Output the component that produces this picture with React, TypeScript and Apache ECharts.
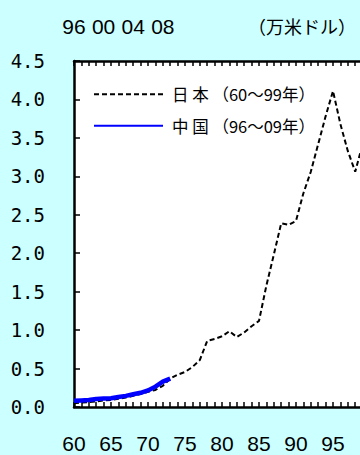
import React, { useEffect, useRef } from 'react';
import * as echarts from 'echarts';

const japanYears = [
  1960, 1961, 1962, 1963, 1964, 1965, 1966, 1967, 1968, 1969,
  1970, 1971, 1972, 1973, 1974, 1975, 1976, 1977, 1978, 1979,
  1980, 1981, 1982, 1983, 1984, 1985, 1986, 1987, 1988, 1989,
  1990, 1991, 1992, 1993, 1994, 1995, 1996, 1997, 1998, 1999,
];
const japanValues = [
  0.048, 0.057, 0.063, 0.072, 0.084, 0.092, 0.106, 0.123, 0.145, 0.168,
  0.198, 0.222, 0.275, 0.37, 0.42, 0.455, 0.52, 0.61, 0.86, 0.885,
  0.92, 0.985, 0.91, 0.97, 1.05, 1.12, 1.58, 1.98, 2.39, 2.37,
  2.42, 2.78, 3.06, 3.42, 3.78, 4.11, 3.68, 3.33, 3.06, 3.42,
];
const chinaYears = [
  1996, 1997, 1998, 1999, 2000, 2001, 2002, 2003, 2004, 2005, 2006, 2007, 2008, 2009,
];
const chinaValues = [
  0.082, 0.086, 0.09, 0.105, 0.11, 0.115, 0.13, 0.145, 0.165, 0.185, 0.215, 0.265, 0.33, 0.37,
];
const bottomTickYears = [1960, 1965, 1970, 1975, 1980, 1985, 1990, 1995];
const bottomTickLabels = ['60', '65', '70', '75', '80', '85', '90', '95'];
const topTickYears = [1996, 2000, 2004, 2008];
const topTickLabels = ['96', '00', '04', '08'];
const yTickValues = [0, 0.5, 1, 1.5, 2, 2.5, 3, 3.5, 4, 4.5];
const yTickLabels = ['0.0', '0.5', '1.0', '1.5', '2.0', '2.5', '3.0', '3.5', '4.0', '4.5'];
const japanName = '日本（60～99年）';
const chinaName = '中国（96～09年）';
const unitLabel = '（万米ドル）';

const digitFont = '"Liberation Sans", Arial, sans-serif';
const monoFont = '"DejaVu Sans Mono", "Liberation Mono", monospace';
const cjkFont = '"Noto Sans CJK JP", sans-serif';

export default function App() {
  const ref = useRef<HTMLDivElement>(null);
  useEffect(() => {
    if (!ref.current) return;
    const chart = echarts.init(ref.current, null, { renderer: 'svg' });
    const axisLine = { show: true, lineStyle: { color: '#000', width: 2.5 } };
    chart.setOption({
      animation: false,
      backgroundColor: '#ccffff',
      grid: {
        left: 74, top: 61, right: 30, bottom: 48,
        show: true, backgroundColor: '#ffffff', borderWidth: 0,
      },
      xAxis: [
        {
          type: 'value', position: 'bottom', min: 1960, max: 2000, interval: 1,
          axisLine,
          axisTick: { show: true, inside: true, length: 5, lineStyle: { color: '#000', width: 1.5 } },
          splitLine: { show: false },
          axisLabel: {
            formatter: (v: number) => {
              const i = bottomTickYears.indexOf(v);
              return i >= 0 ? bottomTickLabels[i] : '';
            },
            margin: 26, fontSize: 21, fontFamily: digitFont, color: '#000',
          },
        },
        {
          type: 'value', position: 'top', min: 1996, max: 2036, interval: 1,
          axisLine,
          axisTick: { show: true, inside: true, length: 5, lineStyle: { color: '#000', width: 1.5 } },
          splitLine: { show: false },
          axisLabel: {
            formatter: (v: number) => {
              const i = topTickYears.indexOf(v);
              return i >= 0 ? topTickLabels[i] : '';
            },
            margin: 24, fontSize: 21, fontFamily: digitFont, color: '#000',
          },
        },
      ],
      yAxis: {
        type: 'value', min: 0, max: 4.5, interval: 0.5,
        axisLine,
        axisTick: { show: true, inside: true, length: 6, lineStyle: { color: '#000', width: 1.5 } },
        splitLine: { show: false },
        axisLabel: {
          formatter: (v: number) => {
            const i = yTickValues.findIndex((t) => Math.abs(t - v) < 1e-6);
            return i >= 0 ? yTickLabels[i] : '';
          },
          margin: 29, fontSize: 19, fontFamily: monoFont, color: '#000',
        },
      },
      legend: {
        orient: 'vertical', left: 93, top: 86, padding: 0,
        itemWidth: 69, itemHeight: 14, itemGap: 15,
        itemStyle: { opacity: 0, borderWidth: 0 },
        textStyle: { fontSize: 16.5, fontFamily: cjkFont, color: '#000', padding: [0, 0, 0, 4] },
        formatter: (name: string) => name.charAt(0) + ' ' + name.charAt(1) + ' ' + name.slice(2),
        data: [
          { name: japanName },
          { name: chinaName, lineStyle: { width: 2 } },
        ],
      },
      graphic: [
        {
          type: 'text', left: 248, top: 17,
          style: { text: unitLabel, font: '18px "Noto Sans CJK JP"', fill: '#000' },
        },
      ],
      series: [
        {
          name: japanName, type: 'line', xAxisIndex: 0, yAxisIndex: 0,
          data: japanYears.map((y, i) => [y, japanValues[i]]),
          symbol: 'none', z: 2,
          lineStyle: { color: '#000', width: 2, type: [5, 3] },
          itemStyle: { color: '#000' },
        },
        {
          name: chinaName, type: 'line', xAxisIndex: 1, yAxisIndex: 0,
          data: chinaYears.map((y, i) => [y, chinaValues[i]]),
          symbol: 'none', z: 3,
          lineStyle: { color: '#0000ff', width: 4.5 },
          itemStyle: { color: '#0000ff' },
        },
      ],
    });
    return () => chart.dispose();
  }, []);
  return (
    <div style={{ position: 'fixed', left: 0, top: 0, width: 360, height: 455, overflow: 'hidden', background: '#ccffff' }}>
      <div ref={ref} style={{ width: 400, height: 455 }} />
    </div>
  );
}
